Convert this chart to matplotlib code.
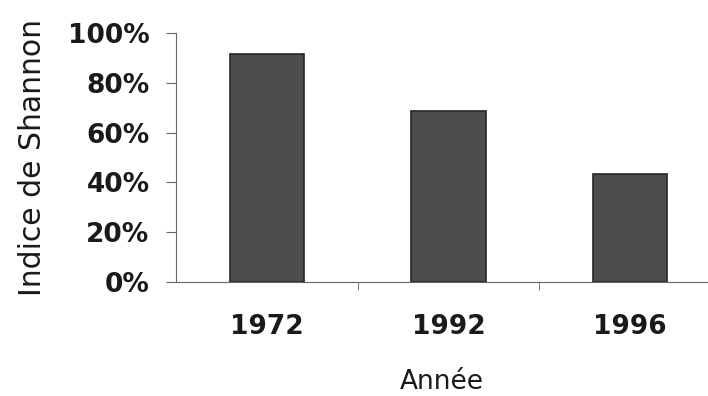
import numpy as np
import matplotlib.pyplot as plt
from matplotlib.ticker import PercentFormatter

# data
years = ["1972", "1992", "1996"]
shannon = [91.5, 68.5, 43.5]

plt.rcParams['font.family'] = ['DejaVu Sans']

fig = plt.figure(figsize=(7.08, 3.96), dpi=100)
ax = fig.add_axes([0.2486, 0.288, 0.7514, 0.629])

x = np.arange(len(years))
ax.bar(x, shannon, width=0.41, color='#4d4d4d', edgecolor='#262626', linewidth=1.2)

ax.set_ylim(0, 100)
ax.set_xlim(-0.5, 2.43)
ax.set_yticks(np.arange(0, 101, 20))
ax.yaxis.set_major_formatter(PercentFormatter(decimals=0))
ax.set_xticks(x)
ax.set_xticklabels(years, fontsize=19, fontweight='bold', color='#1a1a1a')
ax.set_xticks([0.5, 1.5], minor=True)
ax.tick_params(axis='x', which='major', length=0, pad=23)
ax.tick_params(axis='x', which='minor', length=6, color='#666666')
ax.tick_params(axis='y', length=7, color='#666666', labelsize=19, pad=12,
               labelcolor='#1a1a1a')
for lab in ax.get_yticklabels():
    lab.set_fontweight('bold')

for s in ['top', 'right']:
    ax.spines[s].set_visible(False)
ax.spines['left'].set_color('#666666')
ax.spines['bottom'].set_color('#666666')
ax.spines['left'].set_linewidth(0.8)
ax.spines['bottom'].set_linewidth(0.8)

ax.set_ylabel("Indice de Shannon", fontsize=21.5, labelpad=15, color='#1a1a1a')
ax.set_xlabel("Année", fontsize=19, labelpad=21, color='#1a1a1a')

fig.savefig("out.png", dpi=100)
